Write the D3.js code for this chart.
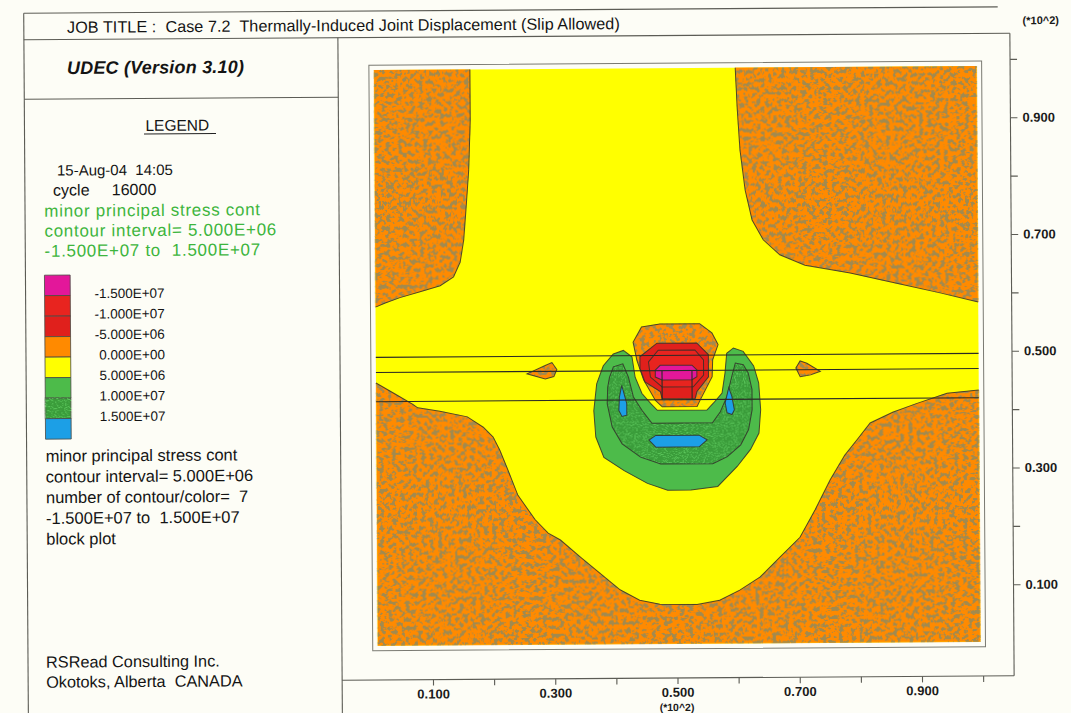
<!DOCTYPE html>
<html><head><meta charset="utf-8">
<script src="https://cdn.jsdelivr.net/npm/d3@7"></script>
<style>
html,body{margin:0;padding:0;background:#fdfdf6;}
svg{display:block;font-family:"Liberation Sans",Arial,sans-serif;}
</style></head><body>
<svg id="c" width="1071" height="713"></svg>
<script>
// ---------------- text content ----------------
const jobTitle = "JOB TITLE :  Case 7.2  Thermally-Induced Joint Displacement (Slip Allowed)";
const codeName = "UDEC (Version 3.10)";
const legendTitle = "LEGEND";
const runInfo = ["15-Aug-04  14:05", "cycle     16000"];
const plotInfo = ["minor principal stress cont", "contour interval= 5.000E+06", "-1.500E+07 to  1.500E+07"];
const blockInfo = ["minor principal stress cont", "contour interval= 5.000E+06", "number of contour/color=  7", "-1.500E+07 to  1.500E+07", "block plot"];
const company = ["RSRead Consulting Inc.", "Okotoks, Alberta  CANADA"];
const axisMultiplier = "(*10^2)";

// ---------------- legend ----------------
const contourLevels = [-1.5e7, -1.0e7, -5.0e6, 0, 5.0e6, 1.0e7, 1.5e7];
const levelLabels = ["-1.500E+07", "-1.000E+07", "-5.000E+06", "0.000E+00", "5.000E+06", "1.000E+07", "1.500E+07"];
const bandColors = ["#e3179a", "#e8241f", "#e0201c", "#ff8a00", "#ffff00", "#4dbb4a", "#3a9c3a", "#1c9fe6"];

// ---------------- axes (units of metres, labelled *10^2) ----------------
const xTicks = [10, 20, 30, 40, 50, 60, 70, 80, 90, 100];
const xTickText = ["0.100", "", "0.300", "", "0.500", "", "0.700", "", "0.900", ""];
const yTicks = [10, 20, 30, 40, 50, 60, 70, 80, 90, 100];
const yTickText = ["0.100", "", "0.300", "", "0.500", "", "0.700", "", "0.900", ""];

// ---------------- model geometry (m) ----------------
const modelX = [1.0, 99.6];
const modelY = [0.2, 98.8];
const jointY = [49.6, 47.0, 42.0];
const heaterX = [47.8, 52.7];

// contour boundaries (m)
const topLeftOrange = [[16.7,98.8],[16.7,90.2],[16.4,81.6],[15.9,74.7],[15.5,69.6],[14.9,65.8],[13.8,63.3],[11.6,61.8],[8.3,60.8],[5.0,59.8],[2.6,58.9],[1.0,58.2]];
const topRightOrange = [[60.1,98.8],[60.4,91.6],[60.8,84.7],[61.6,77.8],[62.7,72.7],[64.5,69.3],[67.2,66.7],[71.3,64.9],[78.7,63.5],[86.3,61.7],[93.4,60.0],[99.6,58.4]];
const bottomOrange = [[1.0,45.2],[4.1,43.3],[7.0,41.5],[7.8,40.9],[11.4,40.3],[15.9,39.3],[18.5,37.5],[20.1,35.8],[21.2,33.5],[22.5,30.1],[24.1,25.8],[26.9,21.6],[29.0,19.3],[31.0,18.1],[34.2,15.2],[37.4,12.4],[40.7,9.5],[43.9,7.7],[47.2,7.0],[53.3,6.9],[57.0,7.6],[60.3,9.3],[63.6,11.5],[66.9,14.9],[70.2,18.3],[72.7,23.0],[75.2,28.1],[77.6,32.3],[79.6,34.9],[81.8,37.8],[85.5,39.6],[89.5,41.1],[94.4,42.8],[99.6,43.3]];
const leftLens = [[25.7,46.6],[28.7,48.0],[29.8,48.5],[30.6,47.3],[30.1,46.1],[28.7,45.7]];
const rightLens = [[69.7,47.3],[70.4,48.5],[71.5,48.1],[73.7,46.7],[72.1,46.1],[70.4,45.8]];
const greenOuter = [[39.85,49.9],[41.5,50.5],[42.9,49.4],[43.4,45.9],[44.5,43.1],[45.9,41.4],[47.0,40.2],[55.1,40.2],[56.2,41.4],[57.6,43.1],[58.1,46.5],[58.4,49.9],[59.5,50.8],[61.1,50.2],[62.8,47.7],[63.6,44.8],[63.9,40.2],[63.6,36.2],[62.2,33.4],[60.0,30.5],[56.8,27.1],[52.4,26.5],[48.6,26.5],[45.3,27.7],[41.5,29.9],[38.2,32.2],[36.9,35.7],[36.6,40.2],[37.1,44.8],[38.2,47.9]];
const greenInner = [[39.2,45.9],[39.85,47.7],[41.4,48.2],[42.3,45.9],[43.1,42.5],[44.5,40.2],[46.1,38.0],[56.0,38.0],[57.3,39.9],[58.4,42.5],[59.2,45.9],[59.8,48.2],[61.1,47.9],[61.9,46.5],[62.5,43.7],[62.5,40.2],[61.9,36.8],[60.6,34.2],[58.4,32.2],[56.0,31.0],[47.5,31.0],[44.2,32.2],[41.2,34.5],[39.6,37.4],[38.8,41.4],[38.9,44.2]];
const blueLeft = [[41.2,44.5],[42.0,41.4],[42.0,39.4],[41.2,39.2],[40.7,40.2],[40.8,42.5]];
const blueRight = [[58.7,44.0],[59.2,42.5],[59.6,40.2],[59.2,39.4],[58.4,39.7],[58.1,41.4]];
const blueBottom = [[45.6,35.1],[46.7,35.9],[53.8,35.9],[55.1,35.1],[53.8,33.9],[46.7,33.9]];
const orangeCap = [[43.1,51.9],[44.5,54.5],[47.5,55.0],[54.0,55.0],[56.0,53.4],[57.0,51.4],[56.1,48.8],[56.0,45.9],[54.0,41.9],[53.5,40.8],[47.8,40.8],[46.7,41.9],[44.8,45.4],[43.7,48.8]];
const redOuter = [[44.2,49.4],[47.0,51.7],[53.5,51.7],[55.4,49.7],[55.4,45.9],[53.5,43.4],[53.2,42.2],[47.8,42.2],[47.5,43.4],[45.0,45.1],[44.2,47.4]];
const redInner = [[45.6,48.5],[47.2,50.5],[53.2,50.5],[54.6,48.8],[54.6,46.2],[52.9,44.2],[47.8,44.2],[45.9,45.9]];
const magentaCore = [[46.7,47.1],[47.5,47.9],[52.7,47.9],[53.5,47.1],[53.5,45.9],[52.7,45.4],[47.8,45.4],[46.7,45.9]];

// ---------------- drawing ----------------
const svg = d3.select("#c");
svg.append("rect").attr("width",1071).attr("height",713).attr("fill","#fdfdf6");

const defs = svg.append("defs");
function noiseFilter(id, freq, oct, seed, rgb, gain, bias) {
  const f = defs.append("filter").attr("id", id).attr("filterUnits","userSpaceOnUse")
    .attr("x",0).attr("y",0).attr("width",1071).attr("height",713)
    .attr("color-interpolation-filters","sRGB");
  f.append("feTurbulence").attr("type","fractalNoise").attr("baseFrequency",freq)
    .attr("numOctaves",oct).attr("seed",seed).attr("result","n");
  f.append("feColorMatrix").attr("in","n").attr("type","matrix")
    .attr("values",`0 0 0 0 ${rgb[0]}  0 0 0 0 ${rgb[1]}  0 0 0 0 ${rgb[2]}  ${gain} 0 0 0 ${bias}`)
    .attr("result","s");
  f.append("feComposite").attr("in","s").attr("in2","SourceGraphic").attr("operator","in").attr("result","sc");
  const m = f.append("feMerge");
  m.append("feMergeNode").attr("in","SourceGraphic");
  m.append("feMergeNode").attr("in","sc");
}
noiseFilter("mottle", 0.24, 3, 11, [0.63,0.54,0.31], 12, -6.1);
noiseFilter("speckle", 0.9, 1, 5, [0.36,0.78,0.36], 10, -5.4);
const bandFilter = b => b === 3 ? "url(#mottle)" : (b === 6 ? "url(#speckle)" : null);

const root = svg.append("g").attr("transform","rotate(-0.38 676 356)");

const x = d3.scaleLinear().domain([0,100]).range([369.7, 981.0]);
const y = d3.scaleLinear().domain([0,100]).range([644.9, 61.1]);
const lineOpen = d3.line().x(d => x(d[0])).y(d => y(d[1]));
const lineClosed = d3.line().x(d => x(d[0])).y(d => y(d[1])).curve(d3.curveLinearClosed);

const ink = "#5c5c55";
// frame lines
const boxTop = 35.5, axisY = 678, axisX = 1012, panelX = 340;
root.append("line").attr("x1",26).attr("x2",1000).attr("y1",9).attr("y2",9).attr("stroke",ink).attr("stroke-width",1.1);
root.append("line").attr("x1",26).attr("x2",axisX).attr("y1",boxTop).attr("y2",boxTop).attr("stroke",ink).attr("stroke-width",1.1);
root.append("line").attr("x1",26).attr("x2",26).attr("y1",9).attr("y2",720).attr("stroke",ink).attr("stroke-width",1.1);
root.append("line").attr("x1",26).attr("x2",panelX).attr("y1",95).attr("y2",95).attr("stroke",ink).attr("stroke-width",1.1);
root.append("line").attr("x1",panelX).attr("x2",panelX).attr("y1",boxTop).attr("y2",720).attr("stroke",ink).attr("stroke-width",1.1);
root.append("line").attr("x1",panelX).attr("x2",axisX).attr("y1",axisY).attr("y2",axisY).attr("stroke",ink).attr("stroke-width",1.1);
root.append("line").attr("x1",axisX).attr("x2",axisX).attr("y1",boxTop).attr("y2",axisY).attr("stroke",ink).attr("stroke-width",1.1);

// plot frame around model
const mx0 = x(modelX[0]), mx1 = x(modelX[1]), my0 = y(modelY[1]), my1 = y(modelY[0]);
root.append("rect").attr("x",mx0-5).attr("y",my0-5).attr("width",mx1-mx0+10).attr("height",my1-my0+10)
  .attr("fill","none").attr("stroke","#7a7a72").attr("stroke-width",1);

// model background (yellow band)
root.append("rect").attr("x",mx0).attr("y",my0).attr("width",mx1-mx0).attr("height",my1-my0).attr("fill",bandColors[4]);

const regions = [
  {pts: topLeftOrange, band: 3, corners: [[modelX[0], modelY[1]]]},
  {pts: topRightOrange, band: 3, corners: [[modelX[1], modelY[1]]]},
  {pts: bottomOrange, band: 3, corners: [[modelX[1], modelY[0]], [modelX[0], modelY[0]]]},
  {pts: leftLens, band: 3},
  {pts: rightLens, band: 3},
  {pts: greenOuter, band: 5},
  {pts: greenInner, band: 6},
  {pts: blueLeft, band: 7},
  {pts: blueRight, band: 7},
  {pts: blueBottom, band: 7},
  {pts: orangeCap, band: 3},
  {pts: redOuter, band: 2},
  {pts: redInner, band: 1},
  {pts: magentaCore, band: 0}
];
const plotG = root.append("g");
regions.forEach(r => {
  const poly = r.corners ? r.pts.concat(r.corners) : r.pts;
  plotG.append("path").attr("d", lineClosed(poly)).attr("fill", bandColors[r.band])
    .attr("filter", bandFilter(r.band));
  plotG.append("path").attr("d", r.corners ? lineOpen(r.pts) : lineClosed(r.pts))
    .attr("fill","none").attr("stroke","#33302a").attr("stroke-width",1).attr("stroke-opacity",0.85);
});
// joints
plotG.selectAll("line.joint").data(jointY).join("line").attr("class","joint")
  .attr("x1", mx0).attr("x2", mx1).attr("y1", d => y(d)).attr("y2", d => y(d))
  .attr("stroke","#2a2a26").attr("stroke-width",1.1);
// heater block edges
plotG.selectAll("line.heat").data(heaterX).join("line").attr("class","heat")
  .attr("x1", d => x(d)).attr("x2", d => x(d)).attr("y1", y(jointY[1])).attr("y2", y(jointY[2]))
  .attr("stroke","#2a2a26").attr("stroke-width",1.1);

// axes
const xAxis = d3.axisBottom(x).tickValues(xTicks).tickSize(6).tickPadding(3.6)
  .tickFormat((d,i) => xTickText[i]);
const gx = root.append("g").attr("transform",`translate(0,${axisY})`).call(xAxis);
const yAxis = d3.axisRight(y).tickValues(yTicks).tickSize(7).tickPadding(5)
  .tickFormat((d,i) => yTickText[i]);
const gy = root.append("g").attr("transform",`translate(${axisX},0)`).call(yAxis);
[gx, gy].forEach(g => {
  g.select(".domain").remove();
  g.selectAll(".tick line").attr("stroke", ink).attr("stroke-width",1.1);
  g.selectAll(".tick text").attr("fill","#1a1a1a").style("font-size","13px").style("font-weight","bold")
    .style("font-family",'"Liberation Sans",Arial,sans-serif');
});
root.append("text").attr("x",674.7).attr("y",711).attr("text-anchor","middle")
  .style("font-size","10.5px").style("font-weight","bold").attr("fill","#1a1a1a").text(axisMultiplier);
root.append("text").attr("x",1043).attr("y",26.5).attr("text-anchor","middle")
  .style("font-size","11px").style("font-weight","bold").attr("fill","#1a1a1a").text(axisMultiplier);

// left panel text
const txt = (t, xx, yy, opts = {}) => root.append("text").attr("x",xx).attr("y",yy)
  .style("white-space","pre").style("font-size",(opts.size||16)+"px")
  .style("letter-spacing",(opts.ls||0)+"px")
  .style("font-weight",opts.weight||"normal").style("font-style",opts.style||"normal")
  .attr("text-anchor",opts.anchor||"start").attr("fill",opts.fill||"#141414").text(t);
txt(jobTitle, 69.2, 28.8, {size:16.2, ls:0.05});
txt(codeName, 68.9, 70, {size:18, weight:"bold", style:"italic", ls:0.2});
txt(legendTitle, 178.8, 127.4, {size:15.5, anchor:"middle"});
root.append("line").attr("x1",145.5).attr("x2",217.5).attr("y1",130.4).attr("y2",130.4).attr("stroke","#222").attr("stroke-width",1);
txt(runInfo[0], 58.2, 171.5, {size:15});
txt(runInfo[1], 54.2, 191.5);
plotInfo.forEach((t,i) => txt(t, 45.3, 212.5 + i*20, {fill:"#3db53d", size:17, ls:0.7}));
blockInfo.forEach((t,i) => txt(t, 45, 457.5 + i*20.75, {size:16.5}));
company.forEach((t,i) => txt(t, 44, 663.5 + i*20, {size:16.3}));

// legend colour bar
const cellTop = 271, cellH = 20.5;
const band = d3.scaleBand().domain(d3.range(bandColors.length)).range([cellTop, cellTop + cellH*bandColors.length]);
root.selectAll("rect.cell").data(bandColors).join("rect").attr("class","cell")
  .attr("x",45).attr("width",25.7).attr("y",(d,i) => band(i)).attr("height",band.bandwidth())
  .attr("fill", d => d).attr("filter",(d,i) => bandFilter(i) === "url(#mottle)" ? null : bandFilter(i))
  .attr("stroke","#4a4a44").attr("stroke-width",0.8);
root.selectAll("text.lvl").data(levelLabels).join("text").attr("class","lvl")
  .attr("x",165).attr("y",(d,i) => band(i) + cellH + 2.8).attr("text-anchor","end")
  .style("font-size","13.5px").attr("fill","#141414").text(d => d);
</script>
</body></html>
